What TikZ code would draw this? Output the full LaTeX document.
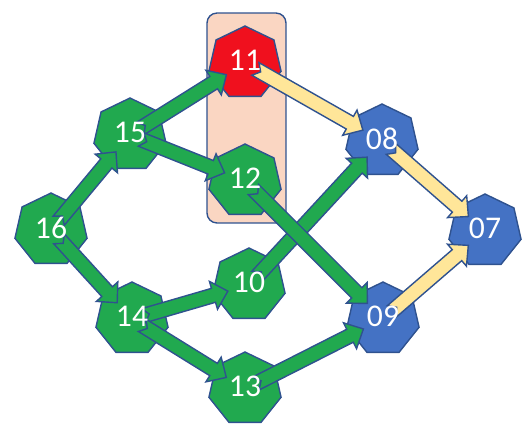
\documentclass[tikz,border=0pt]{standalone}
\usepackage{fontspec}
\setmainfont{Carlito}
\usepackage{xcolor}
\usepackage{tikz}
\usetikzlibrary{shapes.geometric, calc}
\definecolor{nodegreen}{HTML}{21A94F}
\definecolor{nodered}{HTML}{F0101E}
\definecolor{nodeblue}{HTML}{4472C4}
\definecolor{edgeblue}{HTML}{2F528F}
\definecolor{paleyellow}{HTML}{FFE699}
\definecolor{peach}{HTML}{FAD6C2}

\tikzset{
  hept/.style={regular polygon, regular polygon sides=7, minimum size=1.48cm,
               inner sep=0pt, outer sep=0pt, draw=edgeblue, line width=0.8pt},
  numlabel/.style={text=white, font=\fontsize{18}{20}\selectfont, inner sep=0pt,
                   yshift=0.05cm},
  greenarrow/.style={fill=nodegreen, draw=edgeblue, line width=0.8pt},
  yellowarrow/.style={fill=paleyellow, draw=edgeblue, line width=0.8pt},
}

% block arrow from node #2 to node #3
\newcommand{\fatarrow}[3]{%
  \path ($(#2)!0.24cm!(#3)$) coordinate (s) ($(#3)!0.44cm!(#2)$) coordinate (e)
        ($(e)!0.3cm!(s)$) coordinate (b);
  \draw[#1] ($(s)!0.145cm!90:(e)$) -- ($(b)!0.145cm!90:(e)$) -- ($(b)!0.29cm!90:(e)$)
    -- (e) -- ($(b)!0.29cm!-90:(e)$) -- ($(b)!0.145cm!-90:(e)$)
    -- ($(s)!0.145cm!-90:(e)$) -- ($(s)!0.12cm!(e)$) -- cycle;}

\begin{document}
\begin{tikzpicture}[x=0.02cm, y=-0.02cm]
    \useasboundingbox (0,0) rectangle (532,434);

    \node[draw=edgeblue, fill=peach, line width=0.8pt, rounded corners=0.2cm,
          minimum width=1.58cm, minimum height=4.2cm] (grp) at (246.5,118) {};

    \foreach \n/\x/\y/\c in {11/245/63/nodered, 12/245/181/nodegreen,
        15/130/135/nodegreen, 16/51/230/nodegreen, 14/132/319/nodegreen,
        10/249/285/nodegreen, 13/245/389/nodegreen,
        08/382/141/nodeblue, 07/485/231/nodeblue, 09/383/319/nodeblue}
      \node[hept, fill=\c] (n\n) at (\x,\y) {};

    \fatarrow{greenarrow}{n15}{n11}
    \fatarrow{greenarrow}{n15}{n12}
    \fatarrow{greenarrow}{n16}{n15}
    \fatarrow{greenarrow}{n16}{n14}
    \fatarrow{greenarrow}{n14}{n10}
    \fatarrow{greenarrow}{n14}{n13}
    \fatarrow{greenarrow}{n13}{n09}
    \fatarrow{greenarrow}{n10}{n08}
    \fatarrow{greenarrow}{n12}{n09}
    \fatarrow{yellowarrow}{n11}{n08}
    \fatarrow{yellowarrow}{n08}{n07}
    \fatarrow{yellowarrow}{n09}{n07}

    \foreach \n in {11,12,15,16,14,10,13,08,07,09}
      \node[numlabel] (l\n) at (n\n) {\n};
\end{tikzpicture}
\end{document}
